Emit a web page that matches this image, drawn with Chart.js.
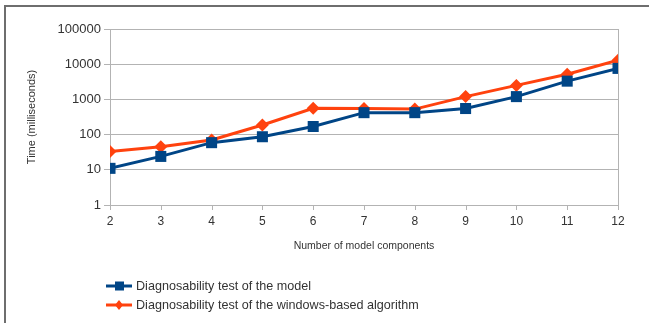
<!DOCTYPE html>
<html>
<head>
<meta charset="utf-8">
<script src="https://cdn.jsdelivr.net/npm/chart.js@4"></script>
<style>
  html, body { margin: 0; padding: 0; background: #fff; }
  #wrap { position: relative; width: 649px; height: 323px; overflow: hidden; }
  #frame { position: absolute; left: 4px; top: 5px; width: 700px; height: 400px;
           border-left: 2px solid #6e6e6e; border-top: 2px solid #6e6e6e; box-sizing: border-box; }
  #chart { position: absolute; left: 0; top: 0; }
  #legend { position: absolute; left: 106px; top: 276px; font-family: "Liberation Sans", Arial, sans-serif;
            font-size: 12.6px; color: #333; }
  .row { display: flex; align-items: center; height: 19px; }
  .row canvas { margin-right: 4px; }
</style>
</head>
<body>
<div id="wrap">
  <div id="frame"></div>
  <canvas id="chart" width="649" height="323"></canvas>
  <div id="legend"></div>
</div>
<script>
// Data
const components = [2, 3, 4, 5, 6, 7, 8, 9, 10, 11, 12];
const modelTimes = [11, 24, 59, 87, 170, 420, 420, 550, 1200, 3300, 7600];
const windowTimes = [33, 45, 70, 187, 560, 550, 530, 1200, 2500, 5200, 13000];
const yTicks = [1, 10, 100, 1000, 10000, 100000];
const seriesNames = ['Diagnosability test of the model', 'Diagnosability test of the windows-based algorithm'];

const BLUE = '#004586';
const ORANGE = '#ff420e';
const FONT = '"Liberation Sans", Arial, sans-serif';

// Legend: small line + marker icon with text
function legendIcon(color, style) {
  const c = document.createElement('canvas');
  c.width = 26; c.height = 12;
  const g = c.getContext('2d');
  g.strokeStyle = color; g.fillStyle = color; g.lineWidth = 3;
  g.beginPath(); g.moveTo(0, 6); g.lineTo(26, 6); g.stroke();
  if (style === 'rect') {
    g.fillRect(9, 1.5, 9, 9);
  } else {
    g.beginPath(); g.moveTo(13, 1); g.lineTo(17, 6); g.lineTo(13, 11); g.lineTo(9, 6); g.closePath(); g.fill();
  }
  return c;
}

const legend = document.getElementById('legend');
[[seriesNames[0], BLUE, 'rect'], [seriesNames[1], ORANGE, 'diamond']].forEach(([name, color, style]) => {
  const row = document.createElement('div');
  row.className = 'row';
  row.appendChild(legendIcon(color, style));
  const span = document.createElement('span');
  span.textContent = name;
  row.appendChild(span);
  legend.appendChild(row);
});

const ctx = document.getElementById('chart').getContext('2d');
new Chart(ctx, {
  type: 'line',
  data: {
    datasets: [
      {
        label: seriesNames[0],
        data: components.map((x, i) => ({ x: x, y: modelTimes[i] })),
        borderColor: BLUE,
        backgroundColor: BLUE,
        borderWidth: 3,
        pointStyle: 'rect',
        pointRadius: 7.8,
        pointBorderWidth: 0,
        tension: 0
      },
      {
        label: seriesNames[1],
        data: components.map((x, i) => ({ x: x, y: windowTimes[i] })),
        borderColor: ORANGE,
        backgroundColor: ORANGE,
        borderWidth: 3,
        pointStyle: 'rectRot',
        pointRadius: 6.5,
        pointBorderWidth: 0,
        tension: 0
      }
    ]
  },
  options: {
    responsive: false,
    animation: false,
    devicePixelRatio: 1,
    layout: { padding: { left: 25, right: 31, top: 29, bottom: 68 } },
    plugins: {
      legend: { display: false },
      tooltip: { enabled: false }
    },
    scales: {
      x: {
        type: 'linear',
        min: 2,
        max: 12,
        ticks: { stepSize: 1, color: '#333', font: { family: FONT, size: 12 }, padding: 4 },
        grid: { display: false, drawOnChartArea: false, tickLength: 5, color: '#b3b3b3' },
        border: { color: '#b3b3b3', width: 1 },
        title: { display: true, text: 'Number of model components', color: '#333',
                 font: { family: FONT, size: 10.5 }, padding: { top: 0, bottom: 3 } },
        afterFit: s => { s.height = 50; }
      },
      x2: {
        type: 'linear', position: 'top', min: 2, max: 12,
        ticks: { display: false }, grid: { display: false },
        border: { color: '#b3b3b3' },
        afterFit: s => { s.height = 0; }
      },
      y: {
        type: 'logarithmic',
        min: 1,
        max: 100000,
        afterBuildTicks: s => { s.ticks = yTicks.map(v => ({ value: v })); },
        ticks: { color: '#333', font: { family: FONT, size: 13 }, padding: 3,
                 callback: v => String(v) },
        grid: { color: '#b3b3b3', tickLength: 6, lineWidth: 1 },
        border: { color: '#b3b3b3' },
        title: { display: true, text: 'Time (milliseconds)', color: '#333',
                 font: { family: FONT, size: 11 }, padding: { top: 0, bottom: 0 } },
        afterFit: s => { s.width = 85; }
      },
      y2: {
        type: 'linear', position: 'right', min: 0, max: 1,
        ticks: { display: false }, grid: { display: false },
        border: { color: '#b3b3b3' },
        afterFit: s => { s.width = 0; }
      }
    }
  },
  plugins: [{
    // x tick marks below the axis at every category
    id: 'xTickMarks',
    afterDraw(chart) {
      const g = chart.ctx, xs = chart.scales.x, b = chart.chartArea.bottom;
      g.save();
      g.strokeStyle = '#b3b3b3'; g.lineWidth = 1;
      components.forEach(v => {
        const px = Math.round(xs.getPixelForValue(v)) + 0.5;
        g.beginPath(); g.moveTo(px, b); g.lineTo(px, b + 5); g.stroke();
      });
      g.restore();
    }
  }]
});
</script>
</body>
</html>
